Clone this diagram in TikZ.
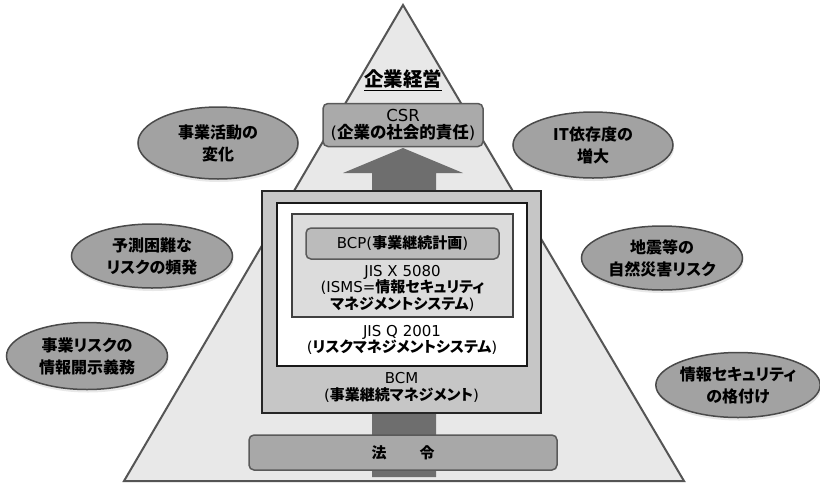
\documentclass[tikz,border=0pt]{standalone}
\usepackage{fontspec}
\setmainfont{DejaVu Sans}
\newfontfamily\jpfont{Noto Sans CJK JP}[RawFeature=+palt]
\newcommand\jb[1]{{\jpfont\bfseries #1}}
\usetikzlibrary{shapes.geometric,shadows}
\definecolor{triFill}{HTML}{E8E8E8}
\definecolor{triDraw}{HTML}{555555}
\definecolor{ellFill}{HTML}{A2A2A2}
\definecolor{ellDraw}{HTML}{4A4A4A}
\definecolor{csrFill}{HTML}{AAAAAA}
\definecolor{outerFill}{HTML}{C6C6C6}
\definecolor{ismsFill}{HTML}{DCDCDC}
\definecolor{bcpFill}{HTML}{BBBBBB}
\definecolor{lawFill}{HTML}{A8A8A8}
\definecolor{arrowFill}{HTML}{6E6E6E}
\definecolor{boxDraw}{HTML}{5A5A5A}
\begin{document}
\begin{tikzpicture}[x=1pt,y=-1pt,
  box/.style={draw, line width=1.5pt, inner sep=0pt, align=center,
    font=\fontsize{15}{16.5}\selectfont},
  ell/.style={ellipse, draw=ellDraw, fill=ellFill, line width=1.5pt, inner sep=0pt,
    align=center, font=\fontsize{16}{22}\selectfont\jpfont\bfseries,
    drop shadow={opacity=0.18, shadow xshift=1pt, shadow yshift=-3pt}},
  lbl/.style={align=center, inner sep=0pt, font=\fontsize{15}{16.5}\selectfont}]
\fill[white] (0,0) rectangle (820,483);
\useasboundingbox (0,0) rectangle (820,483);
% pyramid
\filldraw[fill=triFill, draw=triDraw, line width=2pt] (403,5) -- (684,481) -- (124,481) -- cycle;
% upward block arrow
\fill[arrowFill] (372,477) -- (372,173) -- (343,173) -- (403,148) -- (463,173) -- (436,173) -- (436,477) -- cycle;
% title
\node[inner sep=0pt, font=\fontsize{19.5}{19.5}\selectfont\jpfont\bfseries] (mgmt) at (403,80) {\underline{企業経営}};
% CSR
\node[box, rounded corners=5pt, draw=boxDraw, fill=csrFill, minimum width=160pt, minimum height=43pt,
  font=\fontsize{16.5}{17}\selectfont] (csr) at (403,125)
  {CSR\\(\jb{企業の社会的責任})};
% BCM
\node[box, draw=black!85, line width=1.8pt, fill=outerFill, minimum width=279pt, minimum height=222pt] (bcm) at (401.5,302) {};
\node[box, draw=black!90, line width=2pt, fill=white, minimum width=250pt, minimum height=163pt] (wbox) at (402,284.5) {};
\node[box, draw=black!75, line width=1.8pt, fill=ismsFill, minimum width=221pt, minimum height=103pt] (isms) at (402.5,265.5) {};
\node[box, rounded corners=5pt, draw=boxDraw, fill=bcpFill, minimum width=193pt, minimum height=31pt] (bcp) at (402.5,243.5)
  {BCP(\jb{事業継続計画})};
\node[lbl] (ismst) at (402.5,288) {JIS X 5080\\(ISMS=\jb{情報セキュリティ}\\\jb{マネジメントシステム})};
\node[lbl] (wboxt) at (402,340) {JIS Q 2001\\(\jb{リスクマネジメントシステム})};
\node[lbl] (bcmt) at (401.5,387.5) {BCM\\(\jb{事業継続マネジメント})};
% law
\node[box, rounded corners=5pt, draw=boxDraw, fill=lawFill, minimum width=308pt, minimum height=35pt] (law) at (403,452.5)
  {\jb{法\hspace{33pt}令}};
% ellipses
\node[ell, minimum width=160pt, minimum height=72pt] (e1) at (218,143) {事業活動の\\変化};
\node[ell, minimum width=160pt, minimum height=66pt] (e2) at (593,145) {IT依存度の\\増大};
\node[ell, minimum width=161pt, minimum height=64pt] (e3) at (152,256) {予測困難な\\リスクの頻発};
\node[ell, minimum width=161pt, minimum height=64pt] (e4) at (662,258) {地震等の\\自然災害リスク};
\node[ell, minimum width=161pt, minimum height=67pt] (e5) at (87,356) {事業リスクの\\情報開示義務};
\node[ell, minimum width=162pt, minimum height=65pt] (e6) at (738,385) {情報セキュリティ\\の格付け};
\end{tikzpicture}
\end{document}
